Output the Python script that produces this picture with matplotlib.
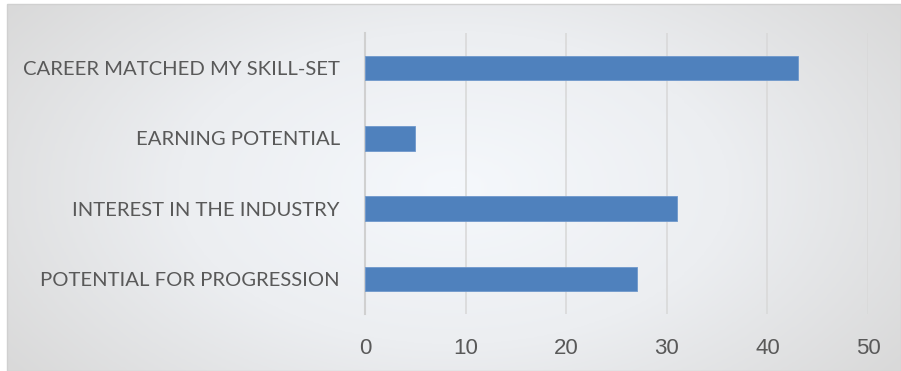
import numpy as np
import matplotlib.pyplot as plt
from matplotlib.colors import LinearSegmentedColormap

categories = ['POTENTIAL FOR PROGRESSION', 'INTEREST IN THE INDUSTRY',
              'EARNING POTENTIAL', 'CAREER MATCHED MY SKILL-SET']
values = [27, 31, 5, 43]
xticks = [0, 10, 20, 30, 40, 50]

W, H = 901, 371
fig = plt.figure(figsize=(W / 100, H / 100), dpi=100)

# radial gradient background inside the chart frame
bx0, by1 = 7 / W, 1 - 4 / H
bg = fig.add_axes([bx0, 0, 1 - bx0, by1])
yy, xx = np.mgrid[0:1:200j, 0:1:400j]
r = np.sqrt(((xx - 0.5) * 1.25) ** 2 + ((yy - 0.5) * 0.9) ** 2)
r = np.clip(r / r.max(), 0, 1)
cmap = LinearSegmentedColormap.from_list('bg', ['#f5f8fc', '#eceef1', '#d9d9d9'])
bg.imshow(r, cmap=cmap, aspect='auto', extent=[0, 1, 0, 1], interpolation='bilinear')
bg.set_axis_off()
fig.patches.append(plt.Rectangle((bx0, 0), 1 - bx0, by1, transform=fig.transFigure,
                                 fill=False, edgecolor='#d0d0d0', linewidth=1))

ax = fig.add_axes([365 / W, 1 - 314 / H, (868 - 365) / W, (314 - 33) / H])
ax.patch.set_alpha(0)
y = np.arange(len(categories))
ax.barh(y, values, height=0.35, color='#4f81bd', edgecolor='#6f98cc', linewidth=0.6, zorder=3)
ax.set_xlim(0, 50)
ax.set_ylim(-0.5, 3.5)
ax.set_xticks(xticks)
ax.set_yticks(y)
ax.set_yticklabels(categories, fontsize=14.6, color='#595959', family=['Lato', 'DejaVu Sans'])
ax.set_xticklabels([str(t) for t in xticks], fontsize=16, color='#595959',
                   family=['Liberation Sans', 'DejaVu Sans'])
ax.tick_params(axis='both', length=0)
ax.tick_params(axis='y', pad=18)
ax.tick_params(axis='x', pad=17)
ax.grid(axis='x', color='#d9d9d9', linewidth=1.2, zorder=0)
for s in ['top', 'right', 'bottom']:
    ax.spines[s].set_visible(False)
ax.spines['left'].set_color('#d0d0d0')
ax.spines['left'].set_linewidth(1.5)

fig.savefig('out.png', dpi=100)
